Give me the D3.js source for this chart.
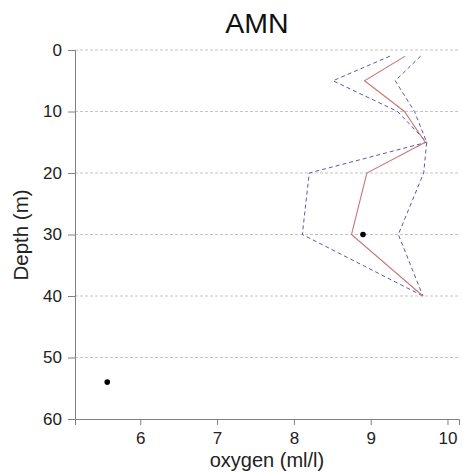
<!DOCTYPE html>
<html><head><meta charset="utf-8">
<script src="https://cdn.jsdelivr.net/npm/d3@7"></script>
<style>body{margin:0;background:#fff}svg{display:block}text{font-family:Arial,"Liberation Sans",sans-serif}</style>
</head><body><svg id="c" width="462" height="472"></svg>
<script>
const depths = [1, 5, 10, 15, 20, 30, 40];
const meanO2 = [9.45, 8.92, 9.44, 9.71, 8.95, 8.75, 9.68];
const lowO2  = [9.25, 8.51, 9.35, 9.73, 8.20, 8.11, 9.68];
const highO2 = [9.65, 9.32, 9.57, 9.73, 9.69, 9.36, 9.68];
const obsDepth = [30, 54];
const obsO2 = [8.90, 5.57];
const xTicks = [6, 7, 8, 9, 10];
const yTicks = [0, 10, 20, 30, 40, 50, 60];
const gridDepths = [0, 10, 20, 30, 40, 50];

const svg = d3.select("#c");
const x = d3.scaleLinear().domain([5.15, 10.15]).range([75, 459]);
const y = d3.scaleLinear().domain([0, 60]).range([50, 419]);

svg.append("g").selectAll("line").data(gridDepths).join("line")
  .attr("x1", x.range()[0]).attr("x2", x.range()[1])
  .attr("y1", d => y(d)).attr("y2", d => y(d))
  .attr("stroke", "#c4c4c4").attr("stroke-width", 1).attr("stroke-dasharray", "3,2");

const yAx = svg.append("g").attr("transform", "translate(75,0)")
  .call(d3.axisLeft(y).tickValues(yTicks).tickSize(7).tickPadding(6).tickFormat(d3.format("d")));
const xAx = svg.append("g").attr("transform", "translate(0,419)")
  .call(d3.axisBottom(x).tickValues(xTicks).tickSize(6).tickPadding(7).tickFormat(d3.format("d")));
[yAx, xAx].forEach(a => {
  a.select(".domain").attr("stroke", "#808080");
  a.selectAll(".tick line").attr("stroke", "#808080");
  a.selectAll(".tick text").attr("fill", "#222").style("font-size", "17px").style("font-family", "Arial, 'Liberation Sans', sans-serif");
});

const line = d3.line().x(d => x(d[0])).y(d => y(d[1]));
const mk = arr => arr.map((v, i) => [v, depths[i]]);

svg.append("path").datum(mk(lowO2)).attr("d", line).attr("fill", "none")
  .attr("stroke", "#5a5aa8").attr("stroke-width", 1).attr("stroke-dasharray", "4,3");
svg.append("path").datum(mk(highO2)).attr("d", line).attr("fill", "none")
  .attr("stroke", "#5a5aa8").attr("stroke-width", 1).attr("stroke-dasharray", "4,3");
svg.append("path").datum(mk(meanO2)).attr("d", line).attr("fill", "none")
  .attr("stroke", "#c87878").attr("stroke-width", 1.1);

svg.append("g").selectAll("circle").data(obsO2.map((v, i) => [v, obsDepth[i]])).join("circle")
  .attr("cx", d => x(d[0])).attr("cy", d => y(d[1])).attr("r", 2.8).attr("fill", "#000");

svg.append("text").attr("x", 257).attr("y", 33).attr("text-anchor", "middle")
  .style("font-size", "28.5px").attr("fill", "#111").text("AMN");
svg.append("text").attr("x", 267).attr("y", 467).attr("text-anchor", "middle")
  .style("font-size", "20px").attr("fill", "#222").text("oxygen (ml/l)");
svg.append("text").attr("transform", "translate(28,235) rotate(-90)").attr("text-anchor", "middle")
  .style("font-size", "20.5px").attr("fill", "#222").text("Depth (m)");
</script></body></html>
